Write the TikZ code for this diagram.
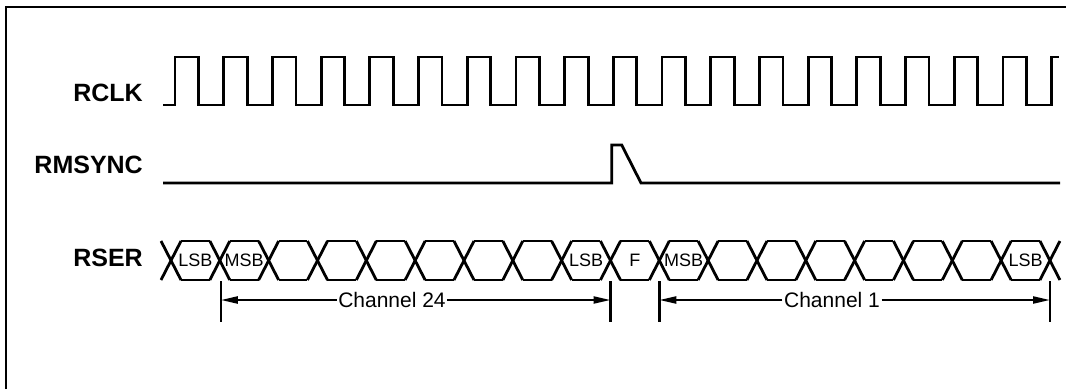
\documentclass[tikz,border=0pt]{standalone}
\usepackage{fontspec}
\setmainfont{Liberation Sans}
\usetikzlibrary{arrows.meta}
\begin{document}
\begin{tikzpicture}[x=1pt,y=-1pt,
  sig/.style={line width=2.8pt,line join=miter},
  frame/.style={line width=2pt},
  siglabel/.style={anchor=east,inner sep=0pt,font=\fontsize{25}{28}\selectfont\bfseries},
  bitlabel/.style={inner sep=0pt,font=\fontsize{18}{20}\selectfont},
  chlabel/.style={inner sep=1.5pt,font=\fontsize{21}{24}\selectfont},
  dimline/.style={line width=2.2pt,-{Triangle[length=17pt,width=7pt]}},
  tick/.style={line width=2.6pt}]
\useasboundingbox (0,0) rectangle (1066,389);
% frame (top and left only)
\draw[frame] (6,389) -- (6,6.5) -- (1066,6.5);
% labels
\node[siglabel] (lrclk) at (143,92.5) {RCLK};
\node[siglabel] (lrms) at (143,165) {RMSYNC};
\node[siglabel] (lrser) at (143,258) {RSER};
% RCLK
\draw[sig] (163,105) foreach \k in {0,...,17} {
  -- ({175+\k*48.7},105) -- ({175+\k*48.7},57) -- ({198.5+\k*48.7},57) -- ({198.5+\k*48.7},105) }
  -- (1051.6,105) -- (1051.6,57) -- (1059,57);
% RMSYNC
\draw[sig] (163,183) -- (611.7,183) -- (611.7,145) -- (621.7,145) -- (641,183) -- (1060,183);
% RSER crossings
\foreach \j in {0,...,18} {
  \pgfmathsetmacro{\c}{171+\j*48.83}
  \draw[sig] ({\c-10},241) -- ({\c+10},280);
  \draw[sig] ({\c-10},280) -- ({\c+10},241);
}
\foreach \j in {0,...,17} {
  \pgfmathsetmacro{\a}{171+\j*48.83+10}
  \pgfmathsetmacro{\b}{171+(\j+1)*48.83-10}
  \draw[sig] (\a,241) -- (\b,241);
  \draw[sig] (\a,280) -- (\b,280);
}
% bit labels
\node[bitlabel] (b0) at ({171+0.5*48.83},260.5) {LSB};
\node[bitlabel] (b1) at ({171+1.5*48.83},260.5) {MSB};
\node[bitlabel] (b8) at ({171+8.5*48.83},260.5) {LSB};
\node[bitlabel] (b9) at ({171+9.5*48.83},260.5) {F};
\node[bitlabel] (b10) at ({171+10.5*48.83},260.5) {MSB};
\node[bitlabel] (b17) at ({171+17.5*48.83},260.5) {LSB};
% dimension ticks
\coordinate (t1a) at (220.8,281); \coordinate (t1b) at (220.8,322); \coordinate (t1m) at (220.8,300);
\coordinate (t9a) at (610.5,281); \coordinate (t9b) at (610.5,322); \coordinate (t9m) at (610.5,300);
\coordinate (t10a) at (659.3,281); \coordinate (t10b) at (659.3,322); \coordinate (t10m) at (659.3,300);
\coordinate (t18a) at (1050,281); \coordinate (t18b) at (1050,322); \coordinate (t18m) at (1050,300);
\draw[tick] (t1a) -- (t1b);
\draw[tick] (t9a) -- (t9b);
\draw[tick] (t10a) -- (t10b);
\draw[tick] (t18a) -- (t18b);
% channel labels
\node[chlabel] (ch24) at (392,300) {Channel 24};
\node[chlabel] (ch1) at (832,300) {Channel 1};
\draw[dimline] (ch24.west) -- (t1m);
\draw[dimline] (ch24.east) -- (t9m);
\draw[dimline] (ch1.west) -- (t10m);
\draw[dimline] (ch1.east) -- (t18m);
\end{tikzpicture}
\end{document}
